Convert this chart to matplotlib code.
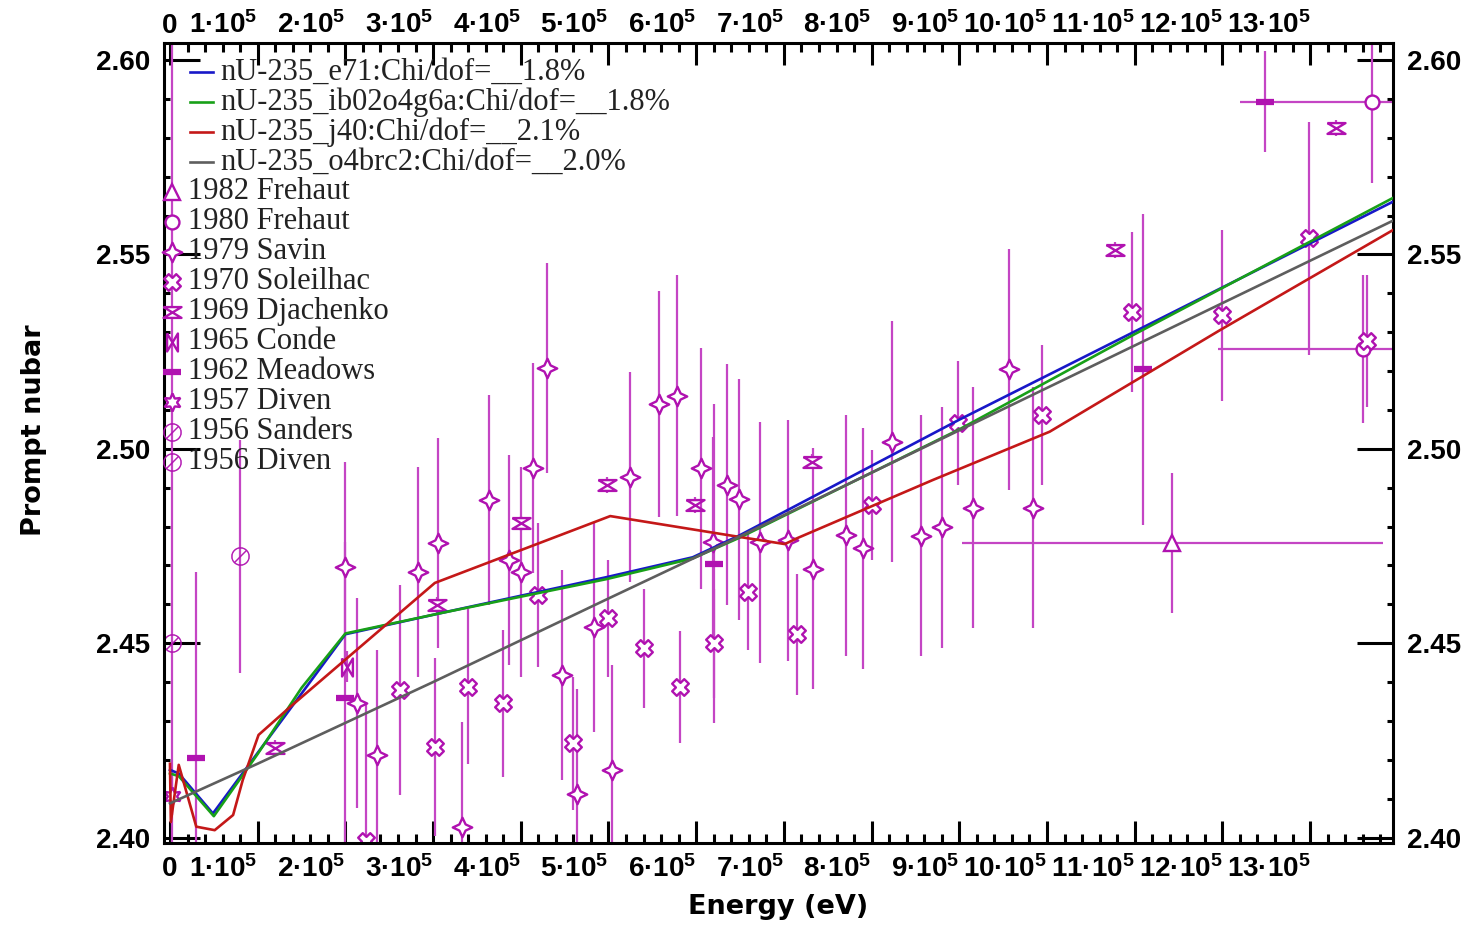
import numpy as np
import matplotlib.pyplot as plt
from matplotlib.ticker import MultipleLocator
from matplotlib.path import Path
from matplotlib.transforms import ScaledTranslation

plt.rcParams['font.family'] = 'Liberation Sans'
plt.rcParams['font.weight'] = 'bold'
plt.rcParams['mathtext.fontset'] = 'custom'
plt.rcParams['mathtext.rm'] = 'Liberation Sans:bold'
plt.rcParams['mathtext.bf'] = 'Liberation Sans:bold'
plt.rcParams['mathtext.it'] = 'Liberation Sans:bold'

# Evaluated curves (energy in eV)
e71_e = [0, 0.1e5, 0.49e5, 1.03e5, 2.0e5, 3.08e5, 4.98e5, 5.96e5, 6.5e5, 9.0e5, 14.0e5]
e71_nu = [2.4174, 2.4165, 2.4062, 2.4227, 2.4523, 2.4577, 2.4670, 2.4721, 2.4778, 2.5075, 2.5642]

ib02_e = [0, 0.1e5, 0.5e5, 1.0e5, 1.5e5, 2.0e5, 3.08e5, 4.98e5, 5.96e5, 6.5e5, 9.0e5, 11.0e5, 14.0e5]
ib02_nu = [2.4165, 2.4158, 2.4055, 2.4215, 2.4385, 2.4525, 2.4577, 2.4665, 2.4718, 2.4772, 2.5050, 2.5295, 2.5652]

j40_e = [0, 0.01e5, 0.1e5, 0.3e5, 0.51e5, 0.72e5, 0.83e5, 1.01e5, 1.37e5, 3.02e5, 5.02e5,
         6.42e5, 7.01e5, 7.15e5, 8.7e5, 10.03e5, 11.97e5, 14.0e5]
j40_nu = [2.419, 2.404, 2.4187, 2.4028, 2.4019, 2.4058, 2.4148, 2.4264, 2.4336, 2.4655, 2.4827,
          2.4776, 2.4755, 2.4770, 2.4920, 2.5044, 2.5305, 2.5570]

o4b_e = [0, 1.0e5, 3.0e5, 5.0e5, 6.5e5, 14.0e5]
o4b_nu = [2.4088, 2.4190, 2.4400, 2.4615, 2.4775, 2.5593]

curve_labels = ['nU-235_e71:Chi/dof=__1.8%', 'nU-235_ib02o4g6a:Chi/dof=__1.8%',
                'nU-235_j40:Chi/dof=__2.1%', 'nU-235_o4brc2:Chi/dof=__2.0%']

# Measurements
frehaut82_e = [11.43e5]
frehaut82_nu = [2.4757]
frehaut82_err = [0.018]
frehaut82_xerr = [2.40e5]

frehaut80_e = [13.60e5, 13.70e5]
frehaut80_nu = [2.5256, 2.5893]
frehaut80_err = [0.019, 0.021]
frehaut80_xerr = [1.65e5, 1.50e5]

savin_e = [2.00e5, 2.13e5, 2.36e5, 2.83e5, 3.06e5, 3.33e5, 3.64e5, 3.86e5, 4.00e5, 4.14e5,
           4.30e5, 4.47e5, 4.64e5, 4.83e5, 5.04e5, 5.24e5, 5.58e5, 5.78e5, 6.06e5, 6.19e5,
           6.35e5, 6.49e5, 6.73e5, 7.05e5, 7.33e5, 7.71e5, 7.90e5, 8.23e5, 8.56e5, 8.80e5,
           9.16e5, 9.57e5, 9.84e5]
savin_nu = [2.4696, 2.4345, 2.4212, 2.4684, 2.4757, 2.4028, 2.4868, 2.4714, 2.4684, 2.4950,
            2.5207, 2.4418, 2.4113, 2.4542, 2.4173, 2.4928, 2.5115, 2.5137, 2.4950, 2.4760,
            2.4907, 2.4870, 2.4760, 2.4765, 2.4692, 2.4778, 2.4744, 2.5018, 2.4776, 2.4798,
            2.4848, 2.5205, 2.4848]
savin_err = [0.027, 0.027, 0.027, 0.027, 0.027, 0.027, 0.027, 0.027, 0.027, 0.027,
             0.027, 0.027, 0.027, 0.027, 0.027, 0.027, 0.029, 0.031, 0.031, 0.027,
             0.031, 0.031, 0.031, 0.031, 0.031, 0.031, 0.031, 0.031, 0.031, 0.031,
             0.031, 0.031, 0.031]

soleilhac_e = [2.24e5, 2.62e5, 3.02e5, 3.40e5, 3.80e5, 4.20e5, 4.60e5, 5.00e5, 5.40e5, 5.81e5,
               6.20e5, 6.59e5, 7.15e5, 8.00e5, 8.99e5, 9.94e5, 10.97e5, 11.99e5, 12.99e5, 13.65e5]
soleilhac_nu = [2.399, 2.438, 2.4233, 2.4388, 2.4345, 2.4624, 2.4242, 2.4564, 2.4487, 2.4388,
                2.450, 2.4632, 2.4523, 2.4855, 2.5066, 2.5087, 2.5353, 2.5344, 2.5542, 2.5277]
soleilhac_err = [0.035, 0.027, 0.023, 0.020, 0.019, 0.0185, 0.017, 0.015, 0.0153, 0.0144,
                 0.014, 0.015, 0.0155, 0.0142, 0.016, 0.018, 0.0206, 0.022, 0.030, 0.017]

djachenko_e = [1.20e5, 3.04e5, 4.00e5, 4.98e5, 5.99e5, 7.32e5, 10.78e5, 13.30e5]
djachenko_nu = [2.423, 2.4598, 2.4808, 2.4907, 2.4855, 2.4967, 2.5511, 2.5825]
djachenko_err = [0.002, 0.002, 0.002, 0.002, 0.002, 0.002, 0.002, 0.002]

conde_e = [2.02e5]
conde_nu = [2.444]
conde_err = [0.004]

meadows_e = [0.30e5, 2.00e5, 6.20e5, 11.10e5, 12.49e5]
meadows_nu = [2.4204, 2.436, 2.4705, 2.5205, 2.5893]
meadows_err = [0.048, 0.040, 0.041, 0.040, 0.013]

diven57_e = [0.02e5]
diven57_nu = [2.4108]
diven57_err = [0.005]

sanders56_e = [0.80e5]
sanders56_nu = [2.4724]
sanders56_err = [0.030]

diven56_e = [0.02e5]
diven56_nu = [2.450]
diven56_err = [0.160]

MAG = '#b012b0'
BAR = '#c445c4'


def star_path(n, r_in, rot):
    ang = np.deg2rad(rot) + np.arange(2 * n) * np.pi / n + np.pi / 2
    rad = np.where(np.arange(2 * n) % 2 == 0, 1.0, r_in)
    verts = np.column_stack([rad * np.cos(ang), rad * np.sin(ang)])
    return Path(np.vstack([verts, verts[:1]]), closed=True)


def cross_path(w, rot):
    v = np.array([(-w, 1), (w, 1), (w, w), (1, w), (1, -w), (w, -w), (w, -1), (-w, -1),
                  (-w, -w), (-1, -w), (-1, w), (-w, w), (-w, 1)])
    a = np.deg2rad(rot)
    r = np.array([[np.cos(a), -np.sin(a)], [np.sin(a), np.cos(a)]])
    return Path(v @ r.T, closed=True)


hourglass = Path([(-1, 0.6), (1, 0.6), (-1, -0.6), (1, -0.6), (-1, 0.6)])
bowtie = Path([(-0.6, 1), (-0.6, -1), (0.6, 1), (0.6, -1), (-0.6, 1)])
savin_mk = star_path(4, 0.45, 0)
soleil_mk = cross_path(0.38, 45)

# (label, x, y, yerr, xerr, marker, size, filled)
datasets = [
    ('1982 Frehaut', frehaut82_e, frehaut82_nu, frehaut82_err, frehaut82_xerr, '^', 11, False),
    ('1980 Frehaut', frehaut80_e, frehaut80_nu, frehaut80_err, frehaut80_xerr, 'o', 10, False),
    ('1979 Savin', savin_e, savin_nu, savin_err, None, savin_mk, 14, False),
    ('1970 Soleilhac', soleilhac_e, soleilhac_nu, soleilhac_err, None, soleil_mk, 12, False),
    ('1969 Djachenko', djachenko_e, djachenko_nu, djachenko_err, None, hourglass, 13, False),
    ('1965 Conde', conde_e, conde_nu, conde_err, None, bowtie, 13, False),
    ('1962 Meadows', meadows_e, meadows_nu, meadows_err, None, '_', 13, False),
    ('1957 Diven', diven57_e, diven57_nu, diven57_err, None, (6, 1, 0), 13, False),
    ('1956 Sanders', sanders56_e, sanders56_nu, sanders56_err, None, r'$\oslash$', 13, True),
    ('1956 Diven', diven56_e, diven56_nu, diven56_err, None, r'$\oslash$', 13, True),
]

curves = [
    (e71_e, e71_nu, '#1818c8'),
    (ib02_e, ib02_nu, '#18a018'),
    (j40_e, j40_nu, '#c41818'),
    (o4b_e, o4b_nu, '#5e5e5e'),
]

fig = plt.figure(figsize=(14.72, 9.25), dpi=100)
ax = fig.add_axes([164 / 1472, 82 / 925, 1229 / 1472, 800 / 925])

for label, x, y, yerr, xerr, mk, ms, filled in datasets:
    mew = 4.5 if isinstance(mk, str) and mk == '_' else (0.4 if filled else 1.7)
    ax.errorbar(x, y, yerr=yerr, xerr=xerr, fmt='none', ecolor=BAR, elinewidth=1.6,
                capsize=0, zorder=2)
    ax.plot(x, y, linestyle='none', marker=mk, ms=ms, mec=MAG,
            mfc=MAG if filled else 'white', mew=mew, zorder=2.5)

for x, y, col in curves:
    ax.plot(x, y, color=col, lw=1.9, zorder=3)

ax.set_xlim(-0.068e5, 13.945e5)
ax.set_ylim(2.3986, 2.6044)

xt = np.arange(0, 14) * 1e5
ax.set_xticks(xt)
ax.set_xticklabels(['0'] + [r'$%d·10^5$' % k for k in range(1, 14)])
ax.xaxis.set_minor_locator(MultipleLocator(0.2e5))
ax.set_yticks([2.40, 2.45, 2.50, 2.55, 2.60])
ax.set_yticklabels(['2.40', '2.45', '2.50', '2.55', '2.60'])
ax.yaxis.set_minor_locator(MultipleLocator(0.01))

ax.tick_params(axis='both', which='both', direction='in', top=True, right=True,
               labeltop=True, labelright=True, width=2.2, labelsize=20)
ax.tick_params(axis='x', which='major', length=16, pad=9)
ax.tick_params(axis='x', which='minor', length=6.5)
ax.tick_params(axis='y', which='major', length=26, pad=10)
ax.tick_params(axis='y', which='minor', length=4.5)
for lab in ax.get_xticklabels():
    lab.set_horizontalalignment('center' if lab.get_text() == '0' else 'right')
down = ScaledTranslation(0, -6 / 72, fig.dpi_scale_trans)
for t in ax.xaxis.get_major_ticks():
    t.label2.set_transform(t.label2.get_transform() + down)
for sp in ax.spines.values():
    sp.set_linewidth(2.2)

ax.set_xlabel('Energy (eV)', fontfamily='DejaVu Sans', fontweight='bold', fontsize=19.5)
ax.xaxis.set_label_coords(0.5, -0.064)
ax.set_ylabel('Prompt nubar', fontfamily='DejaVu Sans', fontweight='bold', fontsize=19.5)
ax.yaxis.set_label_coords(-0.095, 0.516)

# Legend drawn in axes fraction
tr = ax.transAxes
for i, ((x, y, col), lab) in enumerate(zip(curves, curve_labels)):
    yy = 0.964 - i * 0.0375
    ax.plot([0.0212, 0.0399], [yy, yy], transform=tr, color=col, lw=1.9, clip_on=False, zorder=5)
    ax.text(0.0456, yy, lab, transform=tr, va='center', ha='left', fontfamily='Liberation Serif',
            fontweight='normal', fontsize=22, color='#222222', zorder=5)
for j, (label, x, y, yerr, xerr, mk, ms, filled) in enumerate(datasets):
    yy = 0.81425 - j * 0.0375
    mew = 4.5 if isinstance(mk, str) and mk == '_' else (0.4 if filled else 1.7)
    ax.plot([0.0065], [yy], transform=tr, linestyle='none', marker=mk, ms=ms, mec=MAG,
            mfc=MAG if filled else 'white', mew=mew, clip_on=False, zorder=5)
    ax.text(0.0195, yy, label, transform=tr, va='center', ha='left', fontfamily='Liberation Serif',
            fontweight='normal', fontsize=22, color='#222222', zorder=5)

fig.savefig('out.png', dpi=100)
